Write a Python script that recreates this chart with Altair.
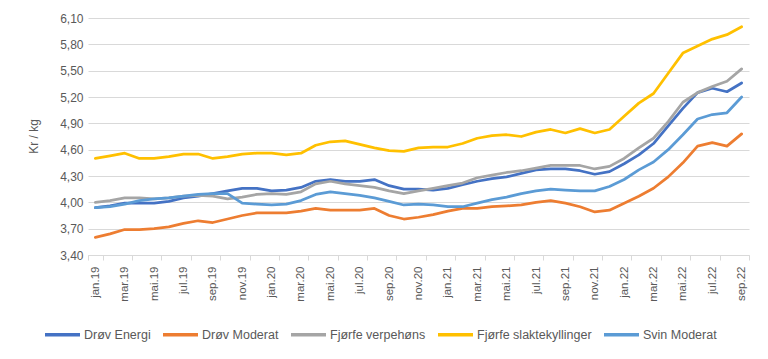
import altair as alt
import pandas as pd

months = [
    "jan.19", "feb.19", "mar.19", "apr.19", "mai.19", "jun.19", "jul.19", "aug.19", "sep.19", "okt.19", "nov.19", "des.19",
    "jan.20", "feb.20", "mar.20", "apr.20", "mai.20", "jun.20", "jul.20", "aug.20", "sep.20", "okt.20", "nov.20", "des.20",
    "jan.21", "feb.21", "mar.21", "apr.21", "mai.21", "jun.21", "jul.21", "aug.21", "sep.21", "okt.21", "nov.21", "des.21",
    "jan.22", "feb.22", "mar.22", "apr.22", "mai.22", "jun.22", "jul.22", "aug.22", "sep.22",
]

series_names = ["Drøv Energi", "Drøv Moderat", "Fjørfe verpehøns", "Fjørfe slaktekyllinger", "Svin Moderat"]
series_colors = ["#4472C4", "#ED7D31", "#A5A5A5", "#FFC000", "#5B9BD5"]

drov_energi = [
    3.94, 3.96, 3.99, 3.99, 3.99, 4.01, 4.05, 4.07, 4.10, 4.13, 4.16, 4.16,
    4.13, 4.14, 4.17, 4.24, 4.26, 4.24, 4.24, 4.26, 4.19, 4.15, 4.15, 4.14,
    4.16, 4.20, 4.24, 4.27, 4.29, 4.33, 4.37, 4.38, 4.38, 4.36, 4.32, 4.35,
    4.44, 4.54, 4.67, 4.87, 5.07, 5.25, 5.30, 5.26, 5.36,
]
drov_moderat = [
    3.60, 3.64, 3.69, 3.69, 3.70, 3.72, 3.76, 3.79, 3.77, 3.81, 3.85, 3.88,
    3.88, 3.88, 3.90, 3.93, 3.91, 3.91, 3.91, 3.93, 3.85, 3.81, 3.83, 3.86,
    3.90, 3.93, 3.93, 3.95, 3.96, 3.97, 4.00, 4.02, 3.99, 3.95, 3.89, 3.91,
    3.99, 4.07, 4.16, 4.29, 4.45, 4.64, 4.68, 4.64, 4.78,
]
fjorfe_verpehons = [
    4.00, 4.02, 4.05, 4.05, 4.04, 4.05, 4.07, 4.08, 4.07, 4.04, 4.06, 4.09,
    4.10, 4.09, 4.12, 4.21, 4.24, 4.21, 4.19, 4.17, 4.13, 4.10, 4.13, 4.16,
    4.19, 4.22, 4.28, 4.31, 4.34, 4.36, 4.39, 4.42, 4.42, 4.42, 4.38, 4.41,
    4.50, 4.62, 4.73, 4.92, 5.14, 5.25, 5.32, 5.38, 5.52,
]
fjorfe_slaktekyllinger = [
    4.50, 4.53, 4.56, 4.50, 4.50, 4.52, 4.55, 4.55, 4.50, 4.52, 4.55, 4.56,
    4.56, 4.54, 4.56, 4.65, 4.69, 4.70, 4.66, 4.62, 4.59, 4.58, 4.62, 4.63,
    4.63, 4.67, 4.73, 4.76, 4.77, 4.75, 4.80, 4.83, 4.79, 4.84, 4.79, 4.83,
    4.98, 5.13, 5.24, 5.47, 5.70, 5.78, 5.86, 5.91, 6.00,
]
svin_moderat = [
    3.94, 3.95, 3.98, 4.02, 4.04, 4.05, 4.07, 4.09, 4.10, 4.10, 3.99, 3.98,
    3.97, 3.98, 4.02, 4.09, 4.12, 4.10, 4.08, 4.05, 4.01, 3.97, 3.98, 3.97,
    3.95, 3.95, 3.99, 4.03, 4.06, 4.10, 4.13, 4.15, 4.14, 4.13, 4.13, 4.18,
    4.26, 4.37, 4.46, 4.60, 4.77, 4.95, 5.00, 5.02, 5.20,
]

y_ticks = [3.40, 3.70, 4.00, 4.30, 4.60, 4.90, 5.20, 5.50, 5.80, 6.10]

all_series = [drov_energi, drov_moderat, fjorfe_verpehons, fjorfe_slaktekyllinger, svin_moderat]
rows = []
for name, vals in zip(series_names, all_series):
    for m, v in zip(months, vals):
        rows.append({"Måned": m, "Serie": name, "Verdi": v})
df = pd.DataFrame(rows)

FONT = "Liberation Sans"
TXT = "#595959"

chart = alt.Chart(df).mark_line(strokeWidth=2.75, strokeCap="round", strokeJoin="round").encode(
    x=alt.X(
        "Måned:O",
        sort=months,
        bandPosition=0.5,
        scale=alt.Scale(type="band", paddingInner=0, paddingOuter=0),
        axis=alt.Axis(
            title=None,
            values=months[::2],
            labelAngle=270,
            labelAlign="right",
            labelBaseline="middle",
            labelPadding=6,
            labelFontSize=11.5,
            labelColor=TXT,
            labelFont=FONT,
            tickBand="extent",
            tickSize=5,
            tickColor="#D9D9D9",
            domainColor="#D9D9D9",
            grid=False,
        ),
    ),
    y=alt.Y(
        "Verdi:Q",
        scale=alt.Scale(domain=[3.40, 6.10], nice=False, zero=False),
        axis=alt.Axis(
            title="Kr / kg",
            values=y_ticks,
            labelExpr="replace(format(datum.value, '.2f'), '.', ',')",
            labelFontSize=12,
            labelColor=TXT,
            labelFont=FONT,
            labelPadding=5,
            ticks=False,
            domain=False,
            gridColor="#D9D9D9",
            gridWidth=1,
            titleFont=FONT,
            titleFontSize=12,
            titleFontWeight="normal",
            titleColor=TXT,
            titleAngle=270,
            titleAlign="center",
            titleBaseline="middle",
            titleX=-55,
            titleY=118,
        ),
    ),
    color=alt.Color(
        "Serie:N",
        sort=series_names,
        scale=alt.Scale(domain=series_names, range=series_colors),
        legend=alt.Legend(
            title=None,
            orient="none",
            direction="horizontal",
            columns=5,
            legendX=-45,
            legendY=297,
            symbolType="stroke",
            symbolSize=1225,
            symbolStrokeWidth=3.5,
            labelFont=FONT,
            labelFontSize=12.5,
            labelColor=TXT,
            labelOffset=2,
            columnPadding=5,
        ),
    ),
).properties(
    width=661,
    height=237,
    autosize=alt.AutoSizeParams(type="none"),
    padding={"left": 80, "top": 10, "right": 11, "bottom": 96},
    background="white",
).configure_view(stroke=None)

chart.save("out.html", embed_options={"renderer": "svg", "actions": False})
